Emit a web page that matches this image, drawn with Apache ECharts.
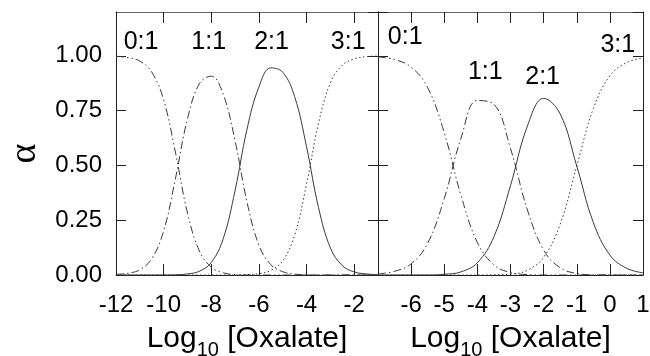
<!DOCTYPE html>
<html>
<head>
<meta charset="utf-8">
<script src="https://cdn.jsdelivr.net/npm/echarts@6/dist/echarts.min.js"></script>
<style>
  html, body { margin: 0; padding: 0; background: #fff; }
  #chart { width: 650px; height: 356px; }
</style>
</head>
<body>
<div id="chart"></div>
<script>
// left panel: log10[oxalate] -12 .. -1
const xLeft = [-12, -11.5, -11, -10.5, -10, -9.5, -9, -8.5, -8, -7.5, -7, -6.5, -6, -5.5, -5, -4.5, -4, -3.5, -3, -2.5, -2, -1.5, -1]
const left01 = [0.998, 0.992, 0.976, 0.926, 0.799, 0.557, 0.283, 0.110, 0.036, 0.010, 0.002, 0.000, 0, 0, 0, 0, 0, 0, 0, 0, 0, 0, 0]
const left11 = [0.003, 0.008, 0.024, 0.074, 0.201, 0.442, 0.712, 0.873, 0.907, 0.825, 0.612, 0.333, 0.136, 0.047, 0.015, 0.004, 0.001, 0, 0, 0, 0, 0, 0]
const left21 = [0, 0, 0, 0, 0, 0.001, 0.005, 0.017, 0.057, 0.165, 0.386, 0.665, 0.858, 0.945, 0.925, 0.814, 0.585, 0.309, 0.124, 0.043, 0.014, 0.005, 0.001]
const left31 = [0, 0, 0, 0, 0, 0, 0, 0, 0, 0, 0, 0.002, 0.006, 0.021, 0.065, 0.182, 0.414, 0.691, 0.876, 0.957, 0.986, 0.996, 0.999]

// right panel: log10[oxalate] -7 .. 1
const xRight = [-7, -6.5, -6, -5.5, -5, -4.5, -4, -3.5, -3, -2.5, -2, -1.5, -1, -0.5, 0, 0.5, 1]
const right01 = [0.995, 0.983, 0.949, 0.855, 0.649, 0.366, 0.148, 0.046, 0.011, 0.002, 0, 0, 0, 0, 0, 0, 0]
const right11 = [0.005, 0.017, 0.051, 0.145, 0.349, 0.621, 0.796, 0.779, 0.577, 0.302, 0.114, 0.033, 0.007, 0.001, 0, 0, 0]
const right21 = [0, 0, 0, 0, 0.003, 0.014, 0.056, 0.175, 0.408, 0.675, 0.806, 0.735, 0.497, 0.240, 0.091, 0.031, 0.010]
const right31 = [0, 0, 0, 0, 0, 0, 0, 0.001, 0.004, 0.021, 0.081, 0.232, 0.497, 0.759, 0.909, 0.969, 0.990]

// curve labels, in data units
const speciesNames = ["0:1", "1:1", "2:1", "3:1"]
const labelXLeft = [-10.95, -8.11, -5.47, -2.25]
const labelYLeft = [1.062, 1.062, 1.062, 1.064]
const labelXRight = [-6.18, -3.76, -2.03, 0.24]
const labelYRight = [1.087, 0.927, 0.904, 1.05]

const font = "Liberation Sans, Arial, sans-serif"
const ink = "#222"
const curveColor = "#3a3a3a"
const dashes = [[8, 3, 1.5, 3, 1.5, 3], [8, 3, 1.5, 3], "solid", [1.5, 2.5]]

const chart = echarts.init(document.getElementById("chart"), null, { renderer: "canvas" })

const xName = "{a|Log}{s|10}{a| [Oxalate]}"
const xNameStyle = {
  rich: {
    a: { fontSize: 30, fontFamily: font, color: "#000", lineHeight: 32, verticalAlign: "top" },
    s: { fontSize: 20, fontFamily: font, color: "#000", padding: [16, 0, 0, 0], verticalAlign: "bottom" },
  },
}

function bottomAxis(gridIndex, min, max, interval, hideMin, hideMax) {
  return {
    type: "value", gridIndex, position: "bottom", min, max, interval,
    name: xName, nameLocation: "middle", nameGap: 49, nameTextStyle: xNameStyle,
    axisLine: { onZero: false, lineStyle: { color: ink, width: 1 } },
    axisTick: { inside: true, length: 11, lineStyle: { color: ink } },
    axisLabel: {
      interval: 0, margin: 18, fontSize: 24, fontFamily: font, color: "#000",
      showMinLabel: !hideMin, showMaxLabel: !hideMax,
    },
    splitLine: { show: false },
  }
}
function topAxis(gridIndex, min, max, interval) {
  return {
    type: "value", gridIndex, position: "top", min, max, interval,
    axisLine: { onZero: false, lineStyle: { color: "#666", width: 1 } },
    axisTick: { inside: true, length: 11, lineStyle: { color: ink } },
    axisLabel: { show: false },
    splitLine: { show: false },
  }
}
function sideAxis(gridIndex, position, withLabels) {
  const ax = {
    type: "value", gridIndex, position, min: 0, max: 1.2, interval: 0.25,
    axisLine: { onZero: false, lineStyle: { color: ink, width: 1 } },
    axisTick: { inside: true, length: 10, lineStyle: { color: ink } },
    axisLabel: { show: false },
    splitLine: { show: false },
  }
  if (withLabels) {
    ax.axisLabel = {
      show: true, margin: 14, fontSize: 24, fontFamily: font, color: "#000",
      showMaxLabel: false, formatter: (v) => v.toFixed(2),
    }
    ax.name = "α"
    ax.nameLocation = "middle"
    ax.nameRotate = 90
    ax.nameGap = 72
    ax.nameTextStyle = { fontSize: 38, fontFamily: "Liberation Serif, serif", color: "#000", padding: [0, 20, 0, 0] }
  }
  return ax
}

function curves(xs, lists, axisIdx) {
  return lists.map((vals, k) => ({
    type: "line", name: speciesNames[k],
    xAxisIndex: axisIdx, yAxisIndex: axisIdx,
    data: xs.map((x, i) => [x, vals[i]]),
    smooth: 0.4, showSymbol: false, symbol: "none", silent: true,
    lineStyle: { color: curveColor, width: 1, type: dashes[k] },
    z: 3,
  }))
}
function labels(xs, ys, axisIdx) {
  return {
    type: "scatter", xAxisIndex: axisIdx, yAxisIndex: axisIdx,
    symbolSize: 0, silent: true,
    data: speciesNames.map((n, i) => ({ name: n, value: [xs[i], ys[i]] })),
    label: {
      show: true, position: "inside", formatter: (p) => p.name,
      fontSize: 25, fontFamily: font, color: "#000",
      textBorderWidth: 0, opacity: 1,
    },
    itemStyle: { opacity: 1 },
  }
}

chart.setOption({
  animation: false,
  backgroundColor: "#fff",
  grid: [
    { left: 116, right: 272, top: 12, bottom: 81, outerBoundsMode: "none", containLabel: false },
    { left: 378, right: 7, top: 12, bottom: 81, outerBoundsMode: "none", containLabel: false },
  ],
  xAxis: [
    bottomAxis(0, -12, -1, 2, false, true),
    topAxis(0, -12, -1, 2),
    bottomAxis(1, -7, 1, 1, true, false),
    topAxis(1, -7, 1, 1),
  ],
  yAxis: [
    sideAxis(0, "left", true),
    sideAxis(0, "right", false),
    sideAxis(1, "left", false),
    sideAxis(1, "right", false),
  ],
  series: [
    ...curves(xLeft, [left01, left11, left21, left31], 0),
    ...curves(xRight, [right01, right11, right21, right31], 2),
    labels(labelXLeft, labelYLeft, 0),
    labels(labelXRight, labelYRight, 2),
  ],
})
</script>
</body>
</html>
